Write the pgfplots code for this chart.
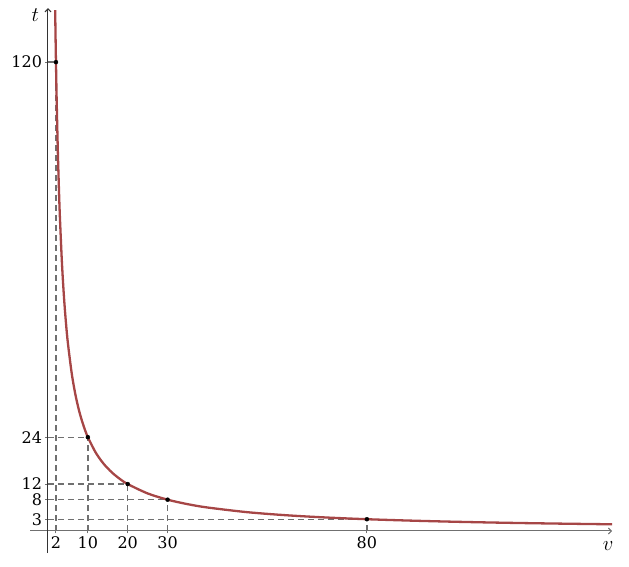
\documentclass[border=0pt]{standalone}
\usepackage{pgfplots}
\pgfplotsset{compat=1.18}
\usepackage{fontspec}
\setmainfont{DejaVu Serif}
\usetikzlibrary{arrows.meta}
\definecolor{curvecol}{HTML}{A64646}
\definecolor{dashcol}{HTML}{707070}
\begin{document}
\begin{tikzpicture}
\begin{axis}[
  scale only axis,
  width=582pt, height=545pt,
  xmin=-4.5, xmax=141.5, ymin=-5.7, ymax=133.8,
  axis lines=middle,
  axis line style={line width=1pt, -{Straight Barb[length=3pt,width=6pt]}},
  x axis line style={draw=dashcol},
  y axis line style={draw=black!80},
  xtick={2,10,20,30,80}, ytick={3,8,12,24,120},
  major tick length=5pt,
  tick style={draw=dashcol, line width=1pt},
  tick label style={font=\fontsize{16}{19}\selectfont},
  /pgf/number format/assume math mode=true,
  xticklabel style={anchor=north, yshift=0pt},
  yticklabel style={anchor=east, xshift=0pt},
  clip=false,
]
% bounding box
\path (axis cs:-12.04,-9.04) rectangle (axis cs:145.75,135.9);
% dashed guide lines
\pgfplotsset{guide/.style={dashcol, line width=1.3pt, dash pattern=on 6pt off 4pt}}
\addplot[guide] coordinates {(2,0) (2,120)};
\addplot[guide] coordinates {(0,120) (2,120)};
\addplot[guide] coordinates {(10,0) (10,24)};
\addplot[guide] coordinates {(0,24) (10,24)};
\addplot[guide] coordinates {(20,0) (20,12)};
\addplot[guide] coordinates {(0,12) (20,12)};
\addplot[guide] coordinates {(30,0) (30,8)};
\addplot[guide] coordinates {(0,8) (30,8)};
\addplot[guide] coordinates {(80,0) (80,3)};
\addplot[guide] coordinates {(0,3) (80,3)};
% curve t = 240/v
\addplot[curvecol, line width=2.3pt, smooth] coordinates {
(1.8,133.33) (1.9,126.32) (2,120) (2.2,109.09) (2.5,96) (2.8,85.71) (3,80) (3.5,68.57) (4,60)
(4.5,53.33) (5,48) (6,40) (7,34.29) (8,30) (9,26.67) (10,24) (12,20) (14,17.14)
(16,15) (18,13.33) (20,12) (25,9.6) (30,8) (35,6.86) (40,6) (50,4.8) (60,4)
(70,3.43) (80,3) (90,2.67) (100,2.4) (110,2.18) (120,2) (130,1.85) (141.5,1.70)};
% points
\addplot[only marks, mark=*, mark size=2pt, black] coordinates {
(2,120) (10,24) (20,12) (30,8) (80,3)};
% axis labels
\node[font=\fontsize{21}{25}\selectfont] at (axis cs:-3.2,132) {$t$};
\node[font=\fontsize{21}{25}\selectfont] at (axis cs:140.5,-3.8) {$v$};
\end{axis}
\end{tikzpicture}
\end{document}
